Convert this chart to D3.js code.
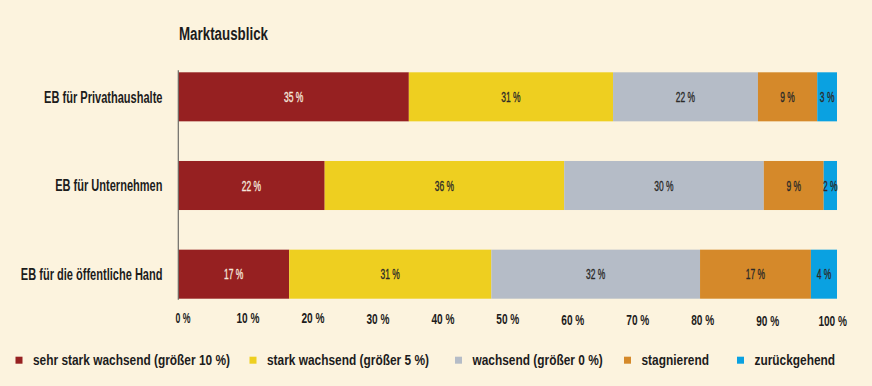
<!DOCTYPE html>
<html>
<head>
<meta charset="utf-8">
<script src="https://cdn.jsdelivr.net/npm/d3@7"></script>
<style>
  html, body { margin: 0; padding: 0; background: #fcf3de; }
  svg { display: block; }
  text { font-family: "Liberation Sans Narrow", "Liberation Sans", Arial, sans-serif; }
</style>
</head>
<body>
<svg id="chart" width="872" height="386"></svg>
<script>
// ---- data ----
const title = "Marktausblick";
const categories = ["EB für Privathaushalte", "EB für Unternehmen", "EB für die öffentliche Hand"];
const seriesNames = [
  "sehr stark wachsend (größer 10 %)",
  "stark wachsend (größer 5 %)",
  "wachsend (größer 0 %)",
  "stagnierend",
  "zurückgehend"
];
const sehrStarkWachsend = [35, 22, 17];
const starkWachsend     = [31, 36, 31];
const wachsend          = [22, 30, 32];
const stagnierend       = [9, 9, 17];
const zurueckgehend     = [3, 2, 4];
const tickValues = [0, 0.1, 0.2, 0.3, 0.4, 0.5, 0.6, 0.7, 0.8, 0.9, 1.0];
const tickLabels = ["0 %", "10 %", "20 %", "30 %", "40 %", "50 %", "60 %", "70 %", "80 %", "90 %", "100 %"];
const colors = ["#962021", "#eecf20", "#b5bcc7", "#d5892a", "#0aa1e1"];

// ---- build table ----
const seriesValues = [sehrStarkWachsend, starkWachsend, wachsend, stagnierend, zurueckgehend];
const keys = seriesNames;
const table = categories.map((c, i) => {
  const row = { category: c };
  keys.forEach((k, j) => row[k] = seriesValues[j][i]);
  return row;
});
const stacked = d3.stack().keys(keys).offset(d3.stackOffsetExpand)(table);

const svg = d3.select("#chart");

const x = d3.scaleLinear().domain([0, 1]).range([178.3, 837]);
const xLabel = d3.scaleLinear().domain([0, 1]).range([183, 832.7]);
const y = d3.scaleBand().domain(categories).range([72.3, 298.7]).paddingInner(0.447).paddingOuter(0);

// condense helper: squeeze text horizontally so the group matches the reference proportions
function condense(sel, sampleTarget) {
  const nodes = sel.nodes();
  if (!nodes.length) return;
  const k = sampleTarget / nodes[0].getComputedTextLength();
  nodes.forEach(n => {
    const w = n.getComputedTextLength();
    n.setAttribute("textLength", w * k);
    n.setAttribute("lengthAdjust", "spacingAndGlyphs");
  });
}

// title
const t = svg.append("text")
  .attr("x", 179).attr("y", 39.5)
  .attr("font-size", 18).attr("font-weight", "bold").attr("fill", "#1c1c1c")
  .text(title);
condense(t, 89);

// bars
const layer = svg.append("g").selectAll("g").data(stacked).join("g")
  .attr("fill", (d, i) => colors[i]);
layer.selectAll("rect").data(d => d.map(p => ({ p, cat: p.data.category }))).join("rect")
  .attr("x", d => x(d.p[0]))
  .attr("width", d => x(d.p[1]) - x(d.p[0]))
  .attr("y", d => y(d.cat))
  .attr("height", y.bandwidth());

// bar labels
const barLabels = svg.append("g").selectAll("g").data(stacked).join("g")
  .selectAll("text").data((d, i) => d.map(p => ({ p, i, key: d.key }))).join("text")
  .attr("x", d => (x(d.p[0]) + x(d.p[1])) / 2)
  .attr("y", d => y(d.p.data.category) + y.bandwidth() / 2 + 5)
  .attr("text-anchor", "middle")
  .attr("font-size", 14.5)
  .attr("fill", d => d.i === 0 ? "#f4e6dc" : "#2b2a28")
  .attr("stroke", d => d.i === 0 ? "#f4e6dc" : "#2b2a28")
  .attr("stroke-width", 0.35)
  .text(d => d.p.data[d.key] + " %");
condense(barLabels, 19.3);

// vertical axis line
svg.append("line")
  .attr("x1", x(0)).attr("x2", x(0))
  .attr("y1", y.range()[0] - 2).attr("y2", y.range()[1] + 1)
  .attr("stroke", "#6b6a66").attr("stroke-width", 1.2);

// category labels
const catLabels = svg.append("g").selectAll("text").data(categories).join("text")
  .attr("x", 162.5)
  .attr("y", d => y(d) + y.bandwidth() / 2 + 5.8)
  .attr("text-anchor", "end")
  .attr("font-size", 16).attr("font-weight", "bold").attr("fill", "#1c1c1c")
  .text(d => d);
condense(catLabels, 118.4);

// x tick labels
const ticks = svg.append("g").selectAll("text").data(tickValues).join("text")
  .attr("x", d => xLabel(d))
  .attr("y", d => 322.8 + 3 * d)
  .attr("text-anchor", "middle")
  .attr("font-size", 14).attr("font-weight", "bold").attr("fill", "#1c1c1c")
  .text((d, i) => tickLabels[i]);
condense(ticks.filter((d, i) => i > 0), 23);
condense(ticks.filter((d, i) => i === 0), 15);

// legend
const legendX = [15.5, 249.5, 455, 624, 737];
const lg = svg.append("g").selectAll("g").data(seriesNames).join("g")
  .attr("transform", (d, i) => `translate(${legendX[i]},0)`);
lg.append("rect").attr("x", 0).attr("y", 356.7).attr("width", 7).attr("height", 7)
  .attr("fill", (d, i) => colors[i]);
const legTexts = lg.append("text").attr("x", 17.5).attr("y", 365.2)
  .attr("font-size", 15).attr("font-weight", "bold").attr("fill", "#1c1c1c")
  .text(d => d);
condense(legTexts, 197);
</script>
</body>
</html>
